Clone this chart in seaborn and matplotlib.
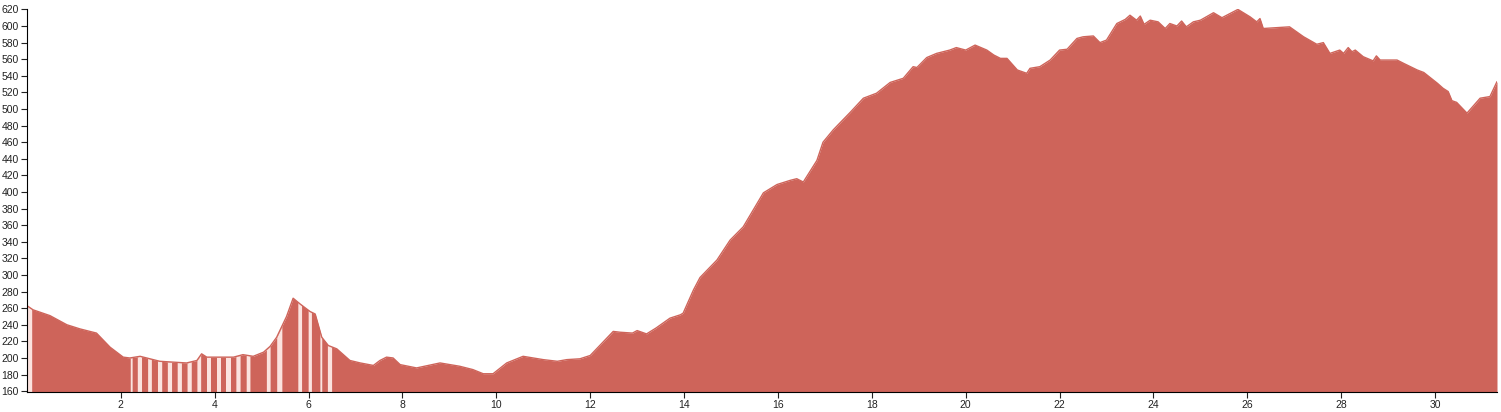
import seaborn as sn
import matplotlib.pyplot as plt
import numpy as np

# elevation profile (distance in km, elevation in m)
distance = [
0.0, 0.13, 0.49, 0.85, 1.13, 1.48, 1.77, 2.05, 2.19, 2.41, 2.83, 3.4, 3.62, 3.72,
3.83, 4.4, 4.6, 4.82, 5.04, 5.18, 5.32, 5.53, 5.67, 5.82, 6.03, 6.14, 6.28, 6.42,
6.6, 6.88, 7.1, 7.38, 7.52, 7.66, 7.8, 7.95, 8.3, 8.8, 9.22, 9.5, 9.72, 9.93,
10.22, 10.57, 11.0, 11.3, 11.5, 11.78, 12.0, 12.49, 12.64, 12.9, 13.0, 13.2, 13.4, 13.7,
13.92, 13.98, 14.2, 14.34, 14.7, 14.98, 15.26, 15.47, 15.69, 15.98, 16.26, 16.4, 16.54, 16.83,
16.96, 17.18, 17.54, 17.82, 18.1, 18.39, 18.67, 18.88, 18.96, 19.17, 19.38, 19.66, 19.8, 20.0,
20.2, 20.45, 20.6, 20.74, 20.88, 21.1, 21.3, 21.37, 21.58, 21.8, 22.0, 22.16, 22.37, 22.5,
22.72, 22.86, 23.0, 23.22, 23.4, 23.5, 23.64, 23.72, 23.8, 23.93, 24.1, 24.25, 24.35, 24.5,
24.6, 24.7, 24.85, 25.0, 25.28, 25.46, 25.8, 26.06, 26.2, 26.27, 26.34, 26.9, 27.2, 27.48,
27.62, 27.76, 27.97, 28.05, 28.15, 28.23, 28.3, 28.47, 28.68, 28.75, 28.83, 29.19, 29.33, 29.62,
29.76, 30.05, 30.17, 30.28, 30.36, 30.46, 30.68, 30.96, 31.17, 31.32,
]

elevation = [
263, 258, 251, 240, 235, 230, 213, 201, 200, 202, 196, 194, 197, 205,
201, 201, 204, 202, 207, 214, 225, 250, 272, 265, 256, 253, 225, 215,
211, 197, 194, 191, 197, 201, 200, 192, 188, 194, 190, 186, 181, 181,
194, 202, 198, 196, 198, 199, 203, 232, 231, 230, 233, 229, 236, 248,
252, 254, 282, 297, 318, 342, 358, 378, 399, 409, 414, 416, 412, 438,
460, 475, 496, 513, 519, 532, 537, 551, 550, 562, 567, 571, 574, 571,
577, 571, 565, 561, 561, 547, 543, 549, 551, 559, 571, 572, 585, 587,
588, 580, 583, 603, 608, 613, 607, 612, 602, 607, 605, 597, 603, 600,
606, 599, 605, 607, 616, 610, 620, 611, 605, 609, 597, 599, 587, 578,
580, 567, 571, 567, 574, 569, 571, 563, 558, 564, 559, 559, 555, 547,
544, 531, 525, 521, 510, 508, 495, 513, 515, 533,
]

# highlighted segments (start, end in km)
stripe_start = [0.0, 2.2, 2.35, 2.57, 2.78, 2.99, 3.2, 3.41, 3.62, 3.84, 4.04, 4.25,
                4.45, 4.67, 5.1, 5.32, 5.77, 5.99, 6.24, 6.4]
stripe_end = [0.1, 2.24, 2.44, 2.65, 2.87, 3.08, 3.29, 3.5, 3.7, 3.92, 4.13, 4.34,
              4.54, 4.75, 5.18, 5.43, 5.85, 6.06, 6.28, 6.49]

sn.set_style("ticks")
plt.rcParams['font.family'] = ['Liberation Sans', 'DejaVu Sans']

fig = plt.figure(figsize=(15.01, 4.12), dpi=100)
ax = fig.add_axes([27 / 1501, 20 / 412, 1470 / 1501, 383 / 412])

red = "#ce645a"
ax.fill_between(distance, 159, elevation, color=red, linewidth=0)
sn.lineplot(x=distance, y=elevation, ax=ax, color=red, linewidth=1)

for s, e in zip(stripe_start, stripe_end):
    xs = np.linspace(s, e, 5)
    ax.fill_between(xs, 159, np.interp(xs, distance, elevation), color="#fbe3df", linewidth=0)

ax.set_xlim(0, 31.32)
ax.set_ylim(159, 620.5)
ax.set_xticks(np.arange(2, 31, 2))
ax.set_yticks(np.arange(160, 621, 20))
ax.tick_params(labelsize=7.5, length=4, width=0.8, colors="#222222", pad=2)
for side in ["top", "right"]:
    ax.spines[side].set_visible(False)
ax.spines["left"].set_color("black")
ax.spines["bottom"].set_color("black")

plt.savefig("out.png", dpi=100)
